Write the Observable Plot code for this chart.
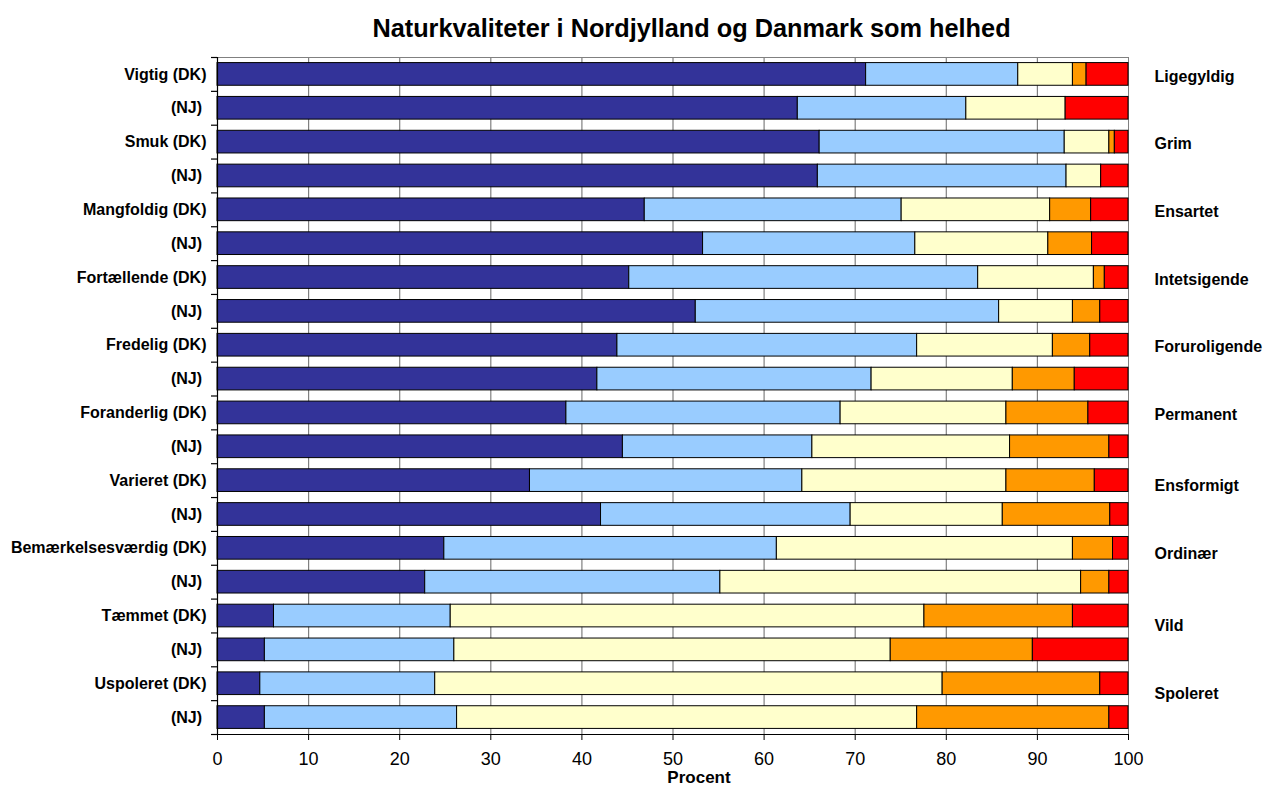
<!DOCTYPE html>
<html>
<head>
<meta charset="utf-8">
<script src="https://cdn.jsdelivr.net/npm/d3@7"></script>
<script src="https://cdn.jsdelivr.net/npm/@observablehq/plot@0.6"></script>
<style>
  html, body { margin: 0; padding: 0; background: #fff; }
  #title { width: 1266px; height: 45px; box-sizing: border-box; padding-top: 16px; padding-left: 117px;
    text-align: center; font: bold 25.3px "Liberation Sans", Arial, sans-serif; line-height: 1; color: #000; white-space: nowrap; }
  #chart svg { display: block; }
</style>
</head>
<body>
<div id="title">Naturkvaliteter i Nordjylland og Danmark som helhed</div>
<div id="chart"></div>
<script>
// Row labels (left), top to bottom
const categories = [
  "Vigtig (DK)", "(NJ) ", "Smuk (DK)", "(NJ) ", "Mangfoldig (DK)", "(NJ) ",
  "Fortællende (DK)", "(NJ) ", "Fredelig (DK)", "(NJ) ", "Foranderlig (DK)", "(NJ) ",
  "Varieret (DK)", "(NJ) ", "Bemærkelsesværdig (DK)", "(NJ) ", "Tæmmet (DK)", "(NJ) ",
  "Uspoleret (DK)", "(NJ) "
];
// Opposite-pole labels (right), one per pair of rows
const opposites = ["Ligegyldig", "Grim", "Ensartet", "Intetsigende", "Foruroligende",
  "Permanent", "Ensformigt", "Ordinær", "Vild", "Spoleret"];

// Percent per response level (1 = closest to left label, 5 = closest to right label)
const level1 = [71.2, 63.7, 66.1, 65.9, 46.9, 53.3, 45.2, 52.5, 43.9, 41.7, 38.3, 44.5, 34.3, 42.1, 24.9, 22.8, 6.2, 5.2, 4.7, 5.2];
const level2 = [16.7, 18.5, 26.9, 27.3, 28.2, 23.3, 38.3, 33.3, 32.9, 30.1, 30.1, 20.8, 29.9, 27.4, 36.5, 32.4, 19.4, 20.8, 19.2, 21.1];
const level3 = [6.0, 10.9, 4.9, 3.8, 16.3, 14.6, 12.7, 8.1, 14.9, 15.5, 18.2, 21.7, 22.4, 16.7, 32.5, 39.6, 52.0, 47.9, 55.7, 50.5];
const level4 = [1.5, 0.0, 0.6, 0.0, 4.5, 4.8, 1.2, 3.0, 4.1, 6.8, 9.0, 10.9, 9.7, 11.8, 4.4, 3.1, 16.3, 15.6, 17.3, 21.1];
const level5 = [4.6, 6.9, 1.5, 3.0, 4.1, 4.0, 2.6, 3.1, 4.2, 5.9, 4.4, 2.1, 3.7, 2.0, 1.7, 2.1, 6.1, 10.5, 3.1, 2.1];

const levelNames = ["1", "2", "3", "4", "5"];
const levelColors = ["#333399", "#99CCFF", "#FFFFCC", "#FF9900", "#FF0000"];
const xTicks = [0, 10, 20, 30, 40, 50, 60, 70, 80, 90, 100];

const series = [level1, level2, level3, level4, level5];
const rows = d3.range(categories.length);
const data = [];
rows.forEach(r => series.forEach((s, k) => data.push({row: r, level: levelNames[k], value: s[r]})));
const opp = opposites.map((t, i) => ({text: t, row: i * 2, group: i < 6 ? 0 : i < 8 ? 1 : 2}));

const W = 1266, H = 740, mt = 12, mb = 51, ml = 217, mr = 138;
const step = (H - mt - mb) / rows.length;
const font = '"Liberation Sans", Arial, sans-serif';
const oppMark = (g, dy) => Plot.text(opp.filter(d => d.group === g), {x: () => 100, y: "row", text: "text",
  dx: 26, dy, textAnchor: "start", fontSize: 16, fontWeight: "bold"});

const chart = Plot.plot({
  width: W, height: H,
  marginTop: mt, marginBottom: mb, marginLeft: ml, marginRight: mr,
  style: {fontFamily: font, background: "#fff", color: "#000", overflow: "visible"},
  x: {domain: [0, 100]},
  y: {domain: rows, paddingInner: 0.33, paddingOuter: 0.165, round: false},
  color: {domain: levelNames, range: levelColors},
  marks: [
    Plot.frame({stroke: "#808080", strokeWidth: 1}),
    Plot.ruleX(xTicks.slice(1, -1), {stroke: "#808080", strokeWidth: 1.2}),
    Plot.barX(data, {x: "value", y: "row", fill: "level", stroke: "#000", strokeWidth: 1}),
    // left axis line and band-boundary ticks
    Plot.ruleX([0], {stroke: "#000", strokeWidth: 1.2}),
    Plot.ruleY(rows, {y: d => d, x1: 0, x2: 0, insetLeft: -6, dy: -step / 2, stroke: "#000", strokeWidth: 1.2}),
    Plot.ruleY(rows.slice(-1), {y: d => d, x1: 0, x2: 0, insetLeft: -6, dy: step / 2, stroke: "#000", strokeWidth: 1.2}),
    // bottom axis line
    Plot.ruleY(rows.slice(-1), {y: d => d, x1: 0, x2: 100, dy: step / 2, stroke: "#000", strokeWidth: 1.2}),
    Plot.axisX({ticks: xTicks, tickSize: 6, tickPadding: 12, fontSize: 18, label: null, stroke: "#000"}),
    Plot.axisY({tickSize: 0, tickPadding: 11, fontSize: 16, fontWeight: "bold", label: null,
      tickFormat: i => categories[i].replace(/ $/, "\u00a0")}),
    Plot.text(["Procent"], {frameAnchor: "bottom", dx: 26, dy: 48, fontSize: 17, fontWeight: "bold", text: d => d}),
    oppMark(0, 2),
    oppMark(1, 5.5),
    oppMark(2, 10)
  ]
});
document.getElementById("chart").appendChild(chart);
</script>
</body>
</html>
